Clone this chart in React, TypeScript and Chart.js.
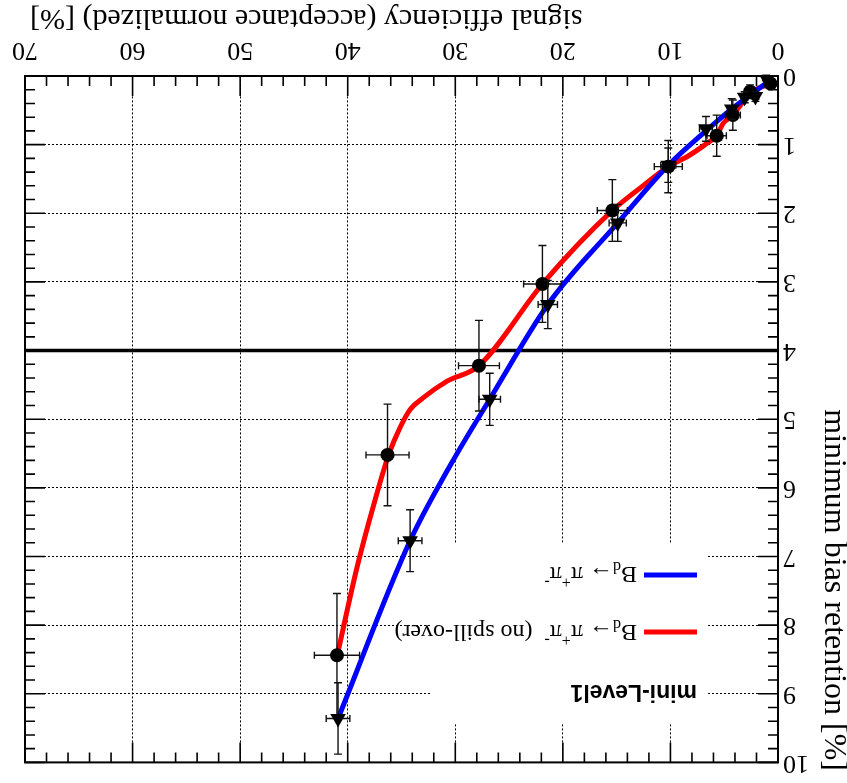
import React, { useEffect, useRef } from 'react';
import { Chart, registerables } from 'chart.js';

Chart.register(...registerables);

// ---------- data (x: signal efficiency [%], y: minimum bias retention [%]) ----------
const xTickValues = [0, 10, 20, 30, 40, 50, 60, 70];
const yTickValues = [0, 1, 2, 3, 4, 5, 6, 7, 8, 9, 10];

const xTitle = 'signal efficiency (acceptance normalized) [%]';
const yTitle = 'minimum bias retention [%]';
const legendHeader = 'mini-Level1';

const cutRetention = 4;
const cutEff = [0, 70];

// B_d -> pi+ pi- (no spill-over): measured points (circles)
const spillEff = [0.7, 2.6, 4.2, 5.7, 10.2, 15.4, 21.9, 27.8, 36.3, 41.0];
const spillRet = [0.11, 0.23, 0.57, 0.87, 1.32, 1.96, 3.03, 4.22, 5.52, 8.44];
const spillEffErr = [0.3, 0.5, 0.7, 0.9, 1.3, 1.4, 1.75, 1.9, 2.0, 2.1];
const spillRetErr = [0.06, 0.1, 0.22, 0.3, 0.38, 0.45, 0.56, 0.66, 0.74, 0.9];

// B_d -> pi+ pi- : measured points (triangles)
const bdEff = [1.1, 2.1, 3.1, 4.3, 6.7, 10.2, 14.9, 21.4, 26.8, 34.2, 40.9];
const bdRet = [0.03, 0.3, 0.31, 0.48, 0.77, 1.3, 2.14, 3.33, 4.71, 6.77, 9.36];
const bdEffErr = [0.2, 0.3, 0.3, 0.4, 0.6, 0.7, 0.8, 0.9, 1.0, 1.1, 1.1];
const bdRetErr = [0.04, 0.07, 0.08, 0.15, 0.18, 0.25, 0.27, 0.35, 0.38, 0.45, 0.52];

// smooth curves as drawn in the picture
const spillCurveEff = [0.7, 2.6, 4.2, 5.1, 5.7, 6.6, 8.5, 10.2, 12.8, 15.4, 21.9, 27.8, 30.8, 33.0, 34.2, 35.1, 36.2, 37.5, 39.2, 41.0];
const spillCurveRet = [0.11, 0.25, 0.57, 0.69, 0.87, 0.98, 1.18, 1.32, 1.63, 1.96, 3.03, 4.22, 4.45, 4.69, 4.86, 5.11, 5.52, 6.2, 7.2, 8.46];

const bdCurveEff = [0.6, 2.1, 4.3, 6.7, 10.2, 14.9, 21.4, 26.8, 30.2, 34.2, 40.9];
const bdCurveRet = [0.05, 0.22, 0.48, 0.8, 1.3, 2.14, 3.33, 4.71, 5.6, 6.77, 9.36];

type Part = { t: string; m?: 'sub' | 'sup' };
const legendSpill: Part[] = [
  { t: 'B' }, { t: 'd', m: 'sub' }, { t: '\u2192 \u03c0' }, { t: '+', m: 'sup' }, { t: '\u03c0' }, { t: '-', m: 'sup' }, { t: '  (no spill-over)' },
];
const legendBd: Part[] = [
  { t: 'B' }, { t: 'd', m: 'sub' }, { t: '\u2192 \u03c0' }, { t: '+', m: 'sup' }, { t: '\u03c0' }, { t: '-', m: 'sup' },
];

// ---------- styles ----------
const SERIF = '"Liberation Serif", "Times New Roman", "DejaVu Serif", serif';
const SANS = '"Liberation Sans", Arial, Helvetica, sans-serif';
const W = 847;
const H = 783;
const LEG = { x0: 140, x1: 415, y0: 60, y1: 240 };

function drawRich(ctx: CanvasRenderingContext2D, parts: Part[], x: number, baseline: number) {
  let cx = x;
  for (const p of parts) {
    if (p.m === 'sub') {
      ctx.font = `16px ${SERIF}`;
      ctx.fillText(p.t, cx, baseline + 5);
    } else if (p.m === 'sup') {
      ctx.font = `16px ${SERIF}`;
      ctx.fillText(p.t, cx, baseline - 10);
    } else {
      ctx.font = `24px ${SERIF}`;
      ctx.fillText(p.t, cx, baseline);
    }
    cx += ctx.measureText(p.t).width;
  }
}

const decorPlugin = {
  id: 'decor',
  beforeDraw(chart: any) {
    const c = chart.ctx;
    c.save();
    c.fillStyle = '#fff';
    c.fillRect(0, 0, chart.width, chart.height);
    c.restore();
  },
  beforeDatasetsDraw(chart: any) {
    const c = chart.ctx;
    c.save();
    c.fillStyle = '#fff';
    c.fillRect(LEG.x0, LEG.y0, LEG.x1 - LEG.x0, LEG.y1 - LEG.y0);
    c.restore();
  },
  beforeDatasetDraw(chart: any, args: any) {
    const ds = chart.data.datasets[args.index];
    if (!ds.errX) return;
    const c = chart.ctx;
    const xs = chart.scales.x;
    const ys = chart.scales.y;
    c.save();
    c.strokeStyle = '#111';
    c.lineWidth = 1.4;
    ds.data.forEach((p: any, i: number) => {
      const px = xs.getPixelForValue(p.x);
      const py = ys.getPixelForValue(p.y);
      const x0 = xs.getPixelForValue(p.x - ds.errX[i]);
      const x1 = xs.getPixelForValue(p.x + ds.errX[i]);
      const y0 = ys.getPixelForValue(p.y - ds.errY[i]);
      const y1 = ys.getPixelForValue(p.y + ds.errY[i]);
      c.beginPath();
      c.moveTo(x0, py); c.lineTo(x1, py);
      c.moveTo(x0, py - 3.5); c.lineTo(x0, py + 3.5);
      c.moveTo(x1, py - 3.5); c.lineTo(x1, py + 3.5);
      c.moveTo(px, y0); c.lineTo(px, y1);
      c.moveTo(px - 4, y0); c.lineTo(px + 4, y0);
      c.moveTo(px - 4, y1); c.lineTo(px + 4, y1);
      c.stroke();
    });
    c.restore();
  },
  afterDatasetsDraw(chart: any) {
    const c = chart.ctx;
    c.save();
    c.fillStyle = '#000';
    c.textAlign = 'left';
    c.textBaseline = 'alphabetic';
    c.font = `bold 23px ${SANS}`;
    c.fillText(legendHeader, 150, 98);
    c.lineWidth = 5;
    c.strokeStyle = '#ff0000';
    c.beginPath(); c.moveTo(150, 151); c.lineTo(203, 151); c.stroke();
    c.strokeStyle = '#0000ff';
    c.beginPath(); c.moveTo(150, 208); c.lineTo(203, 208); c.stroke();
    drawRich(c, legendSpill, 210, 158);
    drawRich(c, legendBd, 210, 216);
    c.restore();
  },
  afterDraw(chart: any) {
    const c = chart.ctx;
    const { left, right, top, bottom } = chart.chartArea;
    const xs = chart.scales.x;
    const ys = chart.scales.y;
    c.save();
    c.strokeStyle = '#000';
    c.lineWidth = 1.6;
    c.beginPath();
    for (let i = 0; i <= 35; i++) {
      const px = xs.getPixelForValue(i * 2);
      const len = i % 5 === 0 ? 20 : 10;
      c.moveTo(px, bottom); c.lineTo(px, bottom - len);
      c.moveTo(px, top); c.lineTo(px, top + len);
    }
    for (let i = 0; i <= 50; i++) {
      const py = ys.getPixelForValue(i * 0.2);
      const len = i % 5 === 0 ? 20 : 10;
      c.moveTo(left, py); c.lineTo(left + len, py);
      c.moveTo(right, py); c.lineTo(right - len, py);
    }
    c.stroke();
    c.lineWidth = 2;
    c.strokeRect(left, top, right - left, bottom - top);
    // axis titles
    c.fillStyle = '#000';
    c.font = `30px ${SERIF}`;
    c.textAlign = 'right';
    c.textBaseline = 'middle';
    c.fillText(xTitle, 817, 765);
    c.translate(14, 12);
    c.rotate(-Math.PI / 2);
    c.font = `32px ${SERIF}`;
    c.fillText(yTitle, 0, 0);
    c.restore();
  },
};

export default function App() {
  const canvasRef = useRef<HTMLCanvasElement | null>(null);

  useEffect(() => {
    const canvas = canvasRef.current;
    if (!canvas) return;
    const chart = new Chart(canvas, {
      type: 'scatter',
      data: {
        datasets: [
          {
            label: 'cut',
            data: cutEff.map((e) => ({ x: e, y: cutRetention })),
            showLine: true,
            borderColor: '#000',
            borderWidth: 3.5,
            pointRadius: 0,
            order: 5,
          },
          {
            label: 'spill curve',
            data: spillCurveEff.map((e, i) => ({ x: e, y: spillCurveRet[i] })),
            showLine: true,
            borderColor: '#ff0000',
            borderWidth: 5,
            pointRadius: 0,
            cubicInterpolationMode: 'monotone',
            order: 4,
          },
          {
            label: 'bd curve',
            data: bdCurveEff.map((e, i) => ({ x: e, y: bdCurveRet[i] })),
            showLine: true,
            borderColor: '#0000ff',
            borderWidth: 5,
            pointRadius: 0,
            cubicInterpolationMode: 'monotone',
            order: 3,
          },
          {
            label: 'spill points',
            data: spillEff.map((e, i) => ({ x: e, y: spillRet[i] })),
            showLine: false,
            pointStyle: 'circle',
            pointRadius: 7,
            backgroundColor: '#000',
            borderColor: '#000',
            borderWidth: 0,
            order: 2,
            errX: spillEffErr,
            errY: spillRetErr,
          } as any,
          {
            label: 'bd points',
            data: bdEff.map((e, i) => ({ x: e, y: bdRet[i] })),
            showLine: false,
            pointStyle: 'triangle',
            pointRotation: 0,
            pointRadius: 9,
            backgroundColor: '#000',
            borderColor: '#000',
            borderWidth: 0,
            order: 1,
            errX: bdEffErr,
            errY: bdRetErr,
          } as any,
        ],
      },
      options: {
        responsive: false,
        animation: false,
        devicePixelRatio: 1,
        layout: { padding: { left: 0, right: 25, top: 20, bottom: 0 } },
        plugins: { legend: { display: false }, tooltip: { enabled: false } },
        scales: {
          x: {
            type: 'linear',
            min: 0,
            max: 70,
            afterBuildTicks: (s: any) => { s.ticks = xTickValues.map((v) => ({ value: v })); },
            afterFit: (s: any) => { s.height = 76; },
            ticks: { color: '#000', font: { family: SERIF, size: 26 }, padding: 11, maxRotation: 0 },
            grid: { color: '#000', lineWidth: 1, drawTicks: false },
            border: { display: false, dash: [2, 2] },
            title: { display: false },
          },
          y: {
            type: 'linear',
            min: 0,
            max: 10,
            afterBuildTicks: (s: any) => { s.ticks = yTickValues.map((v) => ({ value: v })); },
            afterFit: (s: any) => { s.width = 69; },
            ticks: { color: '#000', font: { family: SERIF, size: 26 }, padding: 5 },
            grid: { color: '#000', lineWidth: 1, drawTicks: false },
            border: { display: false, dash: [2, 2] },
            title: { display: false },
          },
        },
      } as any,
      plugins: [decorPlugin as any],
    });
    return () => chart.destroy();
  }, []);

  return (
    <div
      style={{
        position: 'fixed',
        left: 0,
        top: 0,
        width: W,
        height: H,
        background: '#fff',
        transform: 'rotate(180deg)',
        transformOrigin: '50% 50%',
      }}
    >
      <canvas ref={canvasRef} width={W} height={H} style={{ display: 'block', width: W, height: H }} />
    </div>
  );
}
